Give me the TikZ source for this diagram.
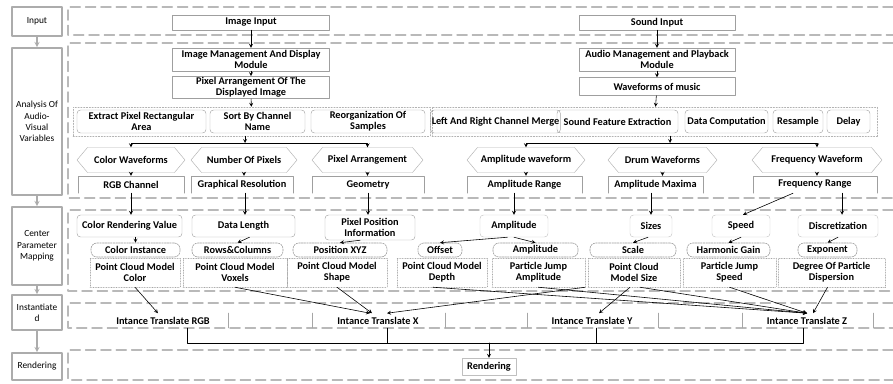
\documentclass[tikz,border=0pt]{standalone}
\usepackage{fontspec}
\setmainfont{Carlito}
\usetikzlibrary{shapes.symbols}

\begin{document}
\begin{tikzpicture}[x=0.03cm, y=-0.03cm, line cap=round, line join=round, >=stealth,
		font=\fontsize{8.8}{9.4}\selectfont\bfseries]
	\tikzset{
		wh/.style 2 args={minimum width=#1*0.03cm, minimum height=#2*0.03cm},
		lane/.style={draw=gray!55, line width=1.3pt, dash pattern=on 0.3cm off 0.16cm},
		stage/.style={draw=gray!65, line width=1.4pt, align=center, inner sep=1pt, font=\fontsize{8}{9.6}\selectfont\mdseries},
		stagearrow/.style={->, draw=gray!65, line width=1pt},
		box/.style={draw=gray!75, align=center, inner sep=1pt},
		openbox/.style={align=center, inner sep=1pt},
		hexa/.style={signal, signal to=west and east, signal pointer angle=100, draw=gray!60, inner sep=1pt},
		grp/.style={draw=gray!60, dash pattern=on 1.2pt off 1.2pt, inner sep=0pt},
		rbox/.style={draw=gray!70, rounded corners=3pt, align=center, inner sep=1pt},
		bbox/.style={draw=gray!45, rounded corners=3pt, align=center, inner sep=1pt},
		pill/.style={draw=gray!80, line width=0.5pt, dash pattern=on 1.5pt off 0.8pt, rounded corners=5pt, inner sep=1pt},
		dbox/.style={draw=gray!70, densely dotted, align=center, inner sep=1pt},
		link/.style={->, line width=0.5pt}
	}
	\useasboundingbox (0,0) rectangle (893,383);

	% stages on the left
	\node[stage, wh={50}{29}] (sInput) at (37,21.5) {Input};
	\node[stage, wh={50}{147}] (sAnalysis) at (37,121.5) {Analysis Of\\Audio-\\Visual\\Variables};
	\node[stage, wh={50}{78}] (sCenter) at (37,246) {Center\\Parameter\\Mapping};
	\node[stage, wh={50}{35}] (sInst) at (37,312.5) {Instantiate\\d};
	\node[stage, wh={50}{27}] (sRender) at (37,366.5) {Rendering};
	\draw[stagearrow] (sInput) -- (sAnalysis);
	\draw[stagearrow] (sAnalysis) -- (sCenter);
	\draw[stagearrow] (sCenter) -- (sInst);
	\draw[stagearrow] (sInst) -- (sRender);

	% lanes
	\draw[lane] (893,7) -| (68,35) -- (893,35);
	\draw[lane] (893,43) -| (68,198) -- (893,198);
	\draw[lane] (893,210) -| (68,291) -- (893,291);
	\draw[lane] (893,303) -| (68,328) -- (893,328);
	\draw[lane] (893,350) -| (68,380) -- (893,380);

	% input
	\node[box, wh={157}{15}] (imgIn) at (251,22.5) {Image Input};
	\node[box, wh={156}{15}] (sndIn) at (657,22.5) {Sound Input};

	% analysis
	\node[box, wh={157}{23}] (imgMan) at (251,59.5) {Image Management And Display\\Module};
	\node[box, wh={157}{21}] (pixArr) at (251,87.5) {Pixel Arrangement Of The\\Displayed Image};
	\node[box, wh={156}{23}] (audMan) at (657,59.5) {Audio Management and Playback\\Module};
	\node[box, wh={156}{18}] (waveMus) at (657,86.5) {Waveforms of music};

	\node[grp, wh={357}{29}] (imgGrp) at (251.5,121.5) {};
	\node[rbox, wh={129}{23}] (extract) at (141.5,121.5) {Extract Pixel Rectangular\\Area};
	\node[rbox, wh={95}{23}] (sortCh) at (257.5,121.5) {Sort By Channel\\Name};
	\node[rbox, wh={114}{23}] (reorg) at (368,121.5) {Reorganization Of\\Samples};
	\node[grp, wh={445}{29}] (sndGrp) at (654.5,121.5) {};
	\node[rbox, wh={119}{23}] (merge) at (495.5,121.5) {Left And Right Channel Merge};
	\node[rbox, wh={121}{23}] (feature) at (617.5,121.5) {Sound Feature Extraction};
	\node[rbox, wh={83}{23}] (dataComp) at (726.5,121.5) {Data Computation};
	\node[rbox, wh={50}{23}] (resample) at (798,121.5) {Resample};
	\node[rbox, wh={43}{23}] (delay) at (848.5,121.5) {Delay};

	\node[hexa, wh={108}{25}] (colWave) at (131,160) {Color Waveforms};
	\node[hexa, wh={106}{25}] (numPix) at (244,160) {Number Of Pixels};
	\node[hexa, wh={111}{25}] (pixArrange) at (367.5,160) {Pixel Arrangement};
	\node[hexa, wh={118}{25}] (ampWave) at (526,160) {Amplitude waveform};
	\node[hexa, wh={109}{25}] (drumWave) at (662.5,160) {Drum Waveforms};
	\node[hexa, wh={130}{25}] (freqWave) at (817,160) {Frequency Waveform};

	\node[openbox, wh={106}{17}] (rgb) at (131,184.5) {RGB Channel};
	\node[openbox, wh={102}{17}] (graphRes) at (242,184.5) {Graphical Resolution};
	\node[openbox, wh={112}{17}] (geometry) at (368,184.5) {Geometry};
	\node[openbox, wh={115}{17}] (ampRange) at (524.5,184.5) {Amplitude Range};
	\node[openbox, wh={95}{17}] (ampMax) at (655.5,184.5) {Amplitude Maxima};
	\node[openbox, wh={124}{17}] (freqRange) at (815,184.5) {Frequency Range};
	\foreach \n in {rgb,graphRes,geometry,ampRange,ampMax,freqRange}
		\draw[gray!75] (\n.south west) |- (\n.north east) -- (\n.south east);

	\draw[link] (imgIn) -- (imgMan);
	\draw[link] (imgMan) -- (pixArr);
	\draw[link] (pixArr) -- (imgGrp);
	\draw[link] (sndIn) -- (audMan);
	\draw[link] (audMan) -- (waveMus);
	\draw[link] (waveMus) -- (sndGrp);
	\coordinate (imgBranch) at (245,143);
	\coordinate (sndBranch) at (670,143);
	\draw[link] (imgGrp.south -| imgBranch) -- (imgBranch);
	\draw[link] (imgBranch) -| (colWave.north);
	\draw[link] (imgBranch) -| (pixArrange.north);
	\draw[link] (sndGrp.south -| sndBranch) -- (sndBranch);
	\draw[link] (sndBranch) -| (ampWave.north);
	\draw[link] (sndBranch) -| (freqWave.north);
	\foreach \a/\b in {colWave/rgb, numPix/graphRes, pixArrange/geometry, ampWave/ampRange, drumWave/ampMax, freqWave/freqRange}
		\draw[link] (\a.south) -- (\a.south |- \b.north);

	% center parameter mapping
	\node[rbox, wh={105}{22}] (colRend) at (129.5,226) {Color Rendering Value};
	\node[rbox, wh={103}{22}] (dataLen) at (243.5,226) {Data Length};
	\node[rbox, wh={90}{25}] (pixPos) at (370,227.5) {Pixel Position\\Information};
	\node[bbox, wh={68}{22}] (amplitude) at (514,226) {Amplitude};
	\node[bbox, wh={42}{22}] (sizes) at (651,226) {Sizes};
	\node[bbox, wh={58}{22}] (speed) at (741,226) {Speed};
	\node[bbox, wh={80}{22}] (discret) at (838,226) {Discretization};

	\node[pill, wh={89}{14}] (colInst) at (135.5,250) {Color Instance};
	\node[pill, wh={91}{14}] (rowCol) at (237.5,250) {Rows\&Columns};
	\node[pill, wh={94}{14}] (posXYZ) at (340,250) {Position XYZ};
	\node[pill, wh={44}{14}] (offset) at (440,250) {Offset};
	\node[pill, wh={85}{14}] (ampInst) at (535.5,250) {Amplitude};
	\node[pill, wh={86}{14}] (scale) at (633,250) {Scale};
	\node[pill, wh={83}{14}] (harmGain) at (728.5,250) {Harmonic Gain};
	\node[pill, wh={59}{14}] (expo) at (827.5,250) {Exponent};

	\node[dbox, wh={90}{29}] (pcColor) at (135,272.5) {Point Cloud Model\\Color};
	\node[dbox, wh={104}{29}] (pcVoxel) at (235,272.5) {Point Cloud Model\\Voxels};
	\node[dbox, wh={100}{29}] (pcShape) at (337,272.5) {Point Cloud Model\\Shape};
	\node[dbox, wh={90}{29}] (pcDepth) at (442,272.5) {Point Cloud Model\\Depth};
	\node[dbox, wh={93}{29}] (jumpAmp) at (538.5,272.5) {Particle Jump\\Amplitude};
	\node[dbox, wh={92}{29}] (pcSize) at (634,272.5) {Point Cloud\\Model Size};
	\node[dbox, wh={93}{29}] (jumpSpeed) at (729.5,272.5) {Particle Jump\\Speed};
	\node[dbox, wh={107}{29}] (dispersion) at (831.5,272.5) {Degree Of Particle\\Dispersion};

	\draw[link] (rgb.south) -- (rgb.south |- colRend.north);
	\draw[link] ([xshift=0.09cm]graphRes.south) -- ([xshift=0.09cm]graphRes.south |- dataLen.north);
	\draw[link] (geometry.south) -- (geometry.south |- pixPos.north);
	\draw[link] (ampRange.south -| amplitude.north) -- (amplitude.north);
	\draw[link] (ampMax.south -| sizes.north) -- (sizes.north);
	\draw[link] ([xshift=-0.66cm]freqRange.south) -- ([xshift=0.06cm]speed.north);
	\draw[link] ([xshift=0.81cm]freqRange.south) -- ([xshift=0.81cm]freqRange.south |- discret.north);
	\draw[link] (colRend.south -| colInst.north) -- (colInst.north);
	\draw[link] ([xshift=0.18cm]dataLen.south) -- (rowCol.north);
	\draw[link] ([xshift=-0.3cm]pixPos.south) -- (posXYZ.north);
	\draw[link] ([xshift=-0.2cm]amplitude.south) -- (offset.north);
	\draw[link] (amplitude.south) -- (ampInst.north);
	\draw[link] ([xshift=-0.09cm]sizes.south) -- (scale.north);
	\draw[link] (speed.south) -- (harmGain.north);
	\draw[link] (discret.south) -- (expo.north);

	% instantiated
	\node (tRGB) at (163,321) {Intance Translate RGB};
	\node (tX) at (378,321) {Intance Translate X};
	\node (tY) at (592,321) {Intance Translate Y};
	\node (tZ) at (807,321) {Intance Translate Z};
	\foreach \x in {228,312,445,527,658,742,873}
		\draw[gray!70] (\x,313) -- (\x,328);

	\draw[link] (pcColor.south) -- ([xshift=-0.15cm]tRGB.north);
	\draw[link] (pcVoxel.south) -- ([xshift=-0.24cm]tX.north);
	\draw[link] (pcShape.south) -- ([xshift=-0.18cm]tX.north);
	\draw[link] (jumpAmp.south east) -- ([xshift=0.27cm]tX.north);
	\draw[link] ([xshift=-0.27cm]pcDepth.south) -- (tZ.north);
	\draw[link] (jumpAmp.south) -- (tZ.north);
	\draw[link] ([xshift=-0.12cm]pcSize.south) -- ([xshift=0.21cm]tY.north);
	\draw[link] ([xshift=0.18cm]pcSize.south) -- (tZ.north);
	\draw[link] (jumpSpeed.south) -- (tZ.north);
	\draw[link] ([xshift=-0.12cm]dispersion.south) -- ([xshift=0.18cm]tZ.north);

	% rendering
	\node[box, draw=gray!50, wh={54}{17}] (rend) at (489,366.5) {Rendering};
	\coordinate (jRGB) at (187,328);
	\coordinate (jX) at (387,328);
	\coordinate (jY) at (596,328);
	\coordinate (jZ) at (803,328);
	\coordinate (jRend) at (489,343);
	\draw (jRGB) -- ++(0,15) -| (jZ);
	\draw (jX) -- ++(0,15);
	\draw (jY) -- ++(0,15);
	\draw[link] (jRend) -- (rend.north);
\end{tikzpicture}
\end{document}
